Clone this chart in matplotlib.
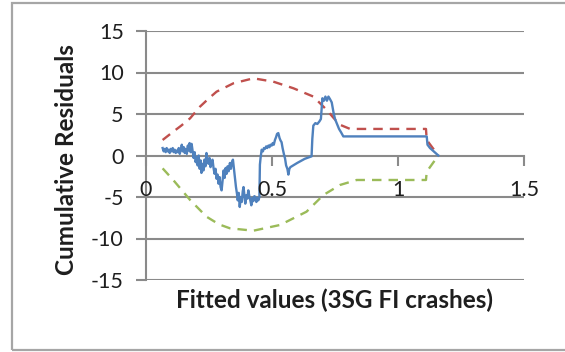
import matplotlib
matplotlib.use("Agg")
import matplotlib.pyplot as plt
from matplotlib.patches import Rectangle
from matplotlib.transforms import blended_transform_factory

plt.rcParams['font.family'] = ['Lato', 'DejaVu Sans']

# Cumulative residuals (blue)
cure_x = [0.066, 0.070, 0.074, 0.078, 0.082, 0.086, 0.090, 0.094, 0.098, 0.102,
          0.106, 0.110, 0.114, 0.118, 0.122, 0.126, 0.130, 0.134, 0.138, 0.142,
          0.146, 0.150, 0.154, 0.158, 0.162, 0.166, 0.170, 0.173, 0.177, 0.181,
          0.185, 0.189, 0.193, 0.197, 0.201, 0.205, 0.209, 0.213, 0.217, 0.220,
          0.224, 0.228, 0.232, 0.236, 0.240, 0.244, 0.248, 0.252, 0.256, 0.260,
          0.264, 0.268, 0.272, 0.276, 0.280, 0.284, 0.288, 0.292, 0.296, 0.300,
          0.304, 0.308, 0.312, 0.316, 0.320, 0.324, 0.328, 0.333, 0.337, 0.341,
          0.345, 0.349, 0.353, 0.357, 0.361, 0.364, 0.368, 0.372, 0.376, 0.380,
          0.384, 0.387, 0.391, 0.394, 0.398, 0.402, 0.406, 0.410, 0.414, 0.418,
          0.422, 0.426, 0.430, 0.434, 0.438, 0.442, 0.446, 0.450, 0.452, 0.455,
          0.459, 0.464, 0.468, 0.472, 0.477, 0.481, 0.486, 0.490, 0.494, 0.499,
          0.503, 0.507, 0.512, 0.516, 0.520, 0.525, 0.530, 0.534, 0.538, 0.542,
          0.547, 0.552, 0.556, 0.561, 0.565, 0.569, 0.573, 0.600, 0.630, 0.657,
          0.660, 0.664, 0.672, 0.680, 0.688, 0.694, 0.700, 0.706, 0.712, 0.718,
          0.724, 0.730, 0.737, 0.744, 0.750, 0.758, 0.766, 0.774, 0.783, 1.114,
          1.117, 1.127, 1.160]
cure_y = [0.9, 0.5, 0.8, 0.4, 0.9, 0.5, 0.7, 0.3, 0.8, 0.5,
          0.9, 0.4, 0.7, 0.3, 0.6, 0.4, 0.9, 0.2, 0.7, 1.3,
          0.5, 1.0, 0.3, 0.8, 0.2, 1.2, 0.6, 1.5, 0.4, 1.4,
          0.5, -0.3, 0.4, -0.8, -0.2, -1.2, 0.0, -1.6, -0.6, -2.1,
          -1.0, -1.8, -0.5, -1.3, 0.3, -0.6, -1.0, -0.3, -1.4, -0.8,
          -0.5, -1.5, -2.2, -1.6, -2.8, -2.3, -3.4, -2.6, -3.8, -4.2,
          -3.0, -1.8, -2.7, -1.5, -2.2, -1.3, -1.9, -0.9, -1.6, -0.8,
          -0.5, -1.6, -2.6, -3.8, -4.6, -5.4, -4.5, -6.2, -5.0, -5.6,
          -4.3, -3.8, -5.0, -5.8, -4.8, -5.2, -4.2, -4.9, -5.4, -6.0,
          -5.1, -5.5, -4.9, -5.0, -5.6, -5.1, -5.4, -5.0, -1.1, -0.2,
          0.7, 0.5, 0.9, 0.8, 1.1, 0.9, 1.2, 1.0, 1.3, 1.2,
          1.5, 1.3, 1.9, 2.2, 2.6, 2.7, 2.1, 1.8, 1.6, 0.9,
          0.2, -0.4, -1.2, -1.6, -2.3, -1.6, -1.4, -0.9, -0.4, -0.1,
          2.0, 3.6, 3.9, 3.8, 4.1, 4.4, 6.9, 6.6, 7.1, 6.6,
          7.1, 6.8, 6.4, 5.2, 4.4, 3.8, 3.2, 2.8, 2.3, 2.3,
          1.3, 0.9, 0.0]

# Upper bound (red dashed)
upper_x = [0.066, 0.108, 0.140, 0.175, 0.214, 0.250, 0.280, 0.347, 0.426, 0.505,
           0.585, 0.664, 0.717, 0.745, 0.770, 0.810, 1.111, 1.114, 1.160]
upper_y = [1.87, 2.87, 3.6, 4.48, 5.88, 6.9, 7.69, 8.7, 9.3, 8.9,
           8.1, 7.1, 5.5, 4.5, 3.7, 3.2, 3.2, 1.87, 0.0]

# Lower bound (green dashed)
lower_x = [0.066, 0.108, 0.140, 0.175, 0.240, 0.290, 0.333, 0.426, 0.532, 0.637,
           0.704, 0.770, 0.836, 1.111, 1.114, 1.160]
lower_y = [-1.55, -2.95, -4.1, -5.36, -7.37, -8.3, -8.77, -9.06, -8.37, -6.77,
           -4.76, -3.55, -2.95, -2.95, -1.95, 0.0]

x_ticks = [0, 0.5, 1, 1.5]
x_tick_labels = ['0', '0.5', '1', '1.5']
y_ticks = [-15, -10, -5, 0, 5, 10, 15]

W, H = 565, 352
fig = plt.figure(figsize=(W / 100, H / 100), dpi=100)
ax = fig.add_axes([146 / W, (H - 280) / H, (524 - 146) / W, (280 - 31) / H])

grid_c = '#8a8a8a'
ax.set_xlim(0, 1.5)
ax.set_ylim(-15, 15)
for yv in y_ticks:
    if yv != 0:
        ax.axhline(yv, color=grid_c, lw=1.5, zorder=1)

ax.plot(upper_x, upper_y, color='#C0504D', lw=1.7, ls=(0, (4, 3)), zorder=3)
ax.plot(lower_x, lower_y, color='#9BBB59', lw=1.7, ls=(0, (4, 3)), zorder=3)
ax.plot(cure_x, cure_y, color='#4F81BD', lw=1.7, zorder=4)

for s in ['top', 'right']:
    ax.spines[s].set_visible(False)
ax.spines['left'].set_color(grid_c)
ax.spines['left'].set_linewidth(1.5)
ax.spines['bottom'].set_position(('data', 0))
ax.spines['bottom'].set_color(grid_c)
ax.spines['bottom'].set_linewidth(1.5)
ax.spines['bottom'].set_zorder(1)

ax.set_yticks(y_ticks)
ax.set_yticklabels([str(v) for v in y_ticks])
ax.set_xticks(x_ticks)
ax.set_xticklabels([])
ax.tick_params(axis='y', direction='out', length=7, width=1.5, color=grid_c,
               pad=9, labelsize=15.5, labelcolor='#1e1e1e')
ax.tick_params(axis='x', direction='out', length=7, width=1.5, color=grid_c)

tr = blended_transform_factory(ax.transData, fig.transFigure)
for xv, lab in zip(x_ticks, x_tick_labels):
    fig.text(xv, 1 - 190 / H, lab, transform=tr, ha='center', va='center',
             fontsize=15.5, color='#1e1e1e')

fig.text(335 / W, 1 - 300 / H, 'Fitted values (3SG FI crashes)', ha='center',
         va='center', fontsize=17.5, fontweight='bold', color='#1e1e1e')
fig.text(66 / W, 1 - 160 / H, 'Cumulative Residuals', ha='center', va='center',
         rotation=90, fontsize=17.5, fontweight='bold', color='#1e1e1e')

fig.patches.append(Rectangle((12 / W, 2 / H), 0.99, 1 - 5 / H,
                             transform=fig.transFigure, fill=False,
                             edgecolor='#a6a6a6', lw=1.6))

fig.savefig('out.png', dpi=100)
